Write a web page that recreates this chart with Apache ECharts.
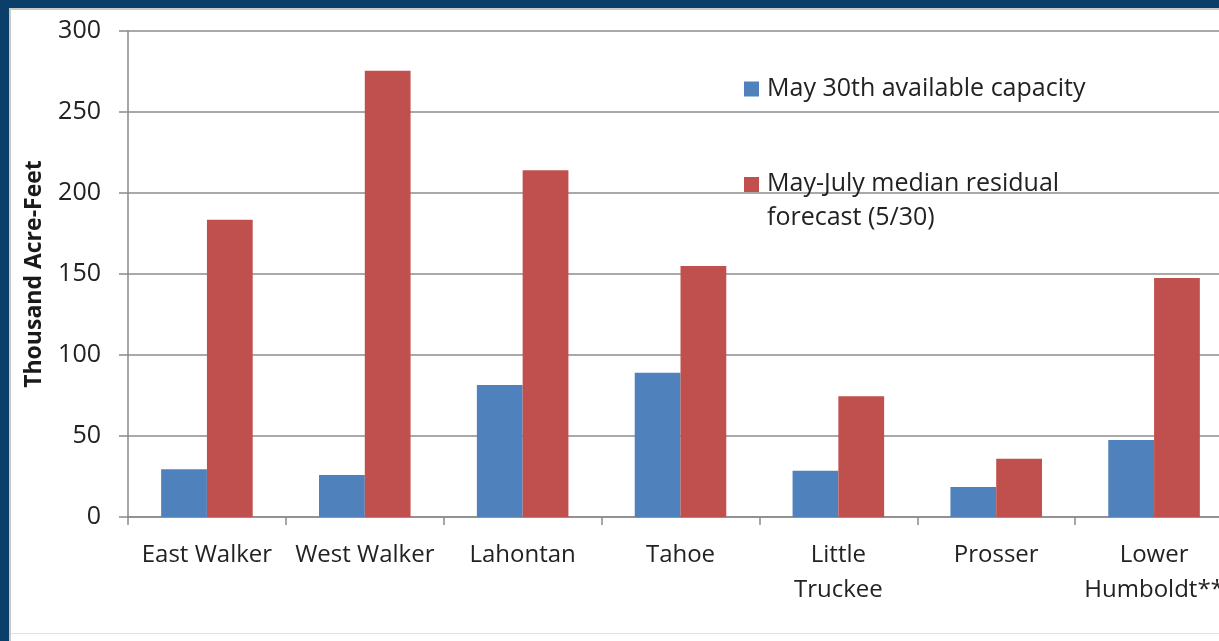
<!DOCTYPE html>
<html>
<head>
<meta charset="utf-8">
<script src="https://cdn.jsdelivr.net/npm/echarts@6/dist/echarts.min.js"></script>
<style>
html,body{margin:0;padding:0;width:1219px;height:641px;overflow:hidden;background:#0b3f69;}
#frame{position:absolute;left:9px;top:8px;width:1240px;height:640px;background:#fff;border-left:2px solid #c9c9c9;border-top:2px solid #c9c9c9;}
#bline{position:absolute;left:11px;top:633px;width:1240px;height:0;border-top:1px solid #e2e2e2;}
#chart{position:absolute;left:0;top:0;width:1219px;height:641px;}
</style>
</head>
<body>
<div id="frame"></div>
<div id="bline"></div>
<div id="chart"></div>
<script>
const categories = ['East Walker', 'West Walker', 'Lahontan', 'Tahoe', 'Little\nTruckee', 'Prosser', 'Lower\nHumboldt**'];
const capacity = [29.5, 26, 81.5, 89, 28.5, 18.5, 47.5];
const forecast = [183.5, 275.5, 214, 155, 74.5, 36, 147.5];
const yTicks = [0, 50, 100, 150, 200, 250, 300];
const seriesNames = ['May 30th available capacity', 'May-July median residual forecast (5/30)'];

const chart = echarts.init(document.getElementById('chart'));
const font = '"Open Sans", Lato, sans-serif';
chart.setOption({
  animation: false,
  backgroundColor: 'transparent',
  textStyle: { fontFamily: font },
  grid: { left: 128, width: 1105, top: 31, height: 486, containLabel: false, outerBoundsMode: 'none' },
  legend: [{
    data: [seriesNames[0]],
    left: 739, top: 69,
    itemWidth: 15, itemHeight: 15,
    icon: 'rect',
    textStyle: { fontFamily: font, fontSize: 25, color: '#222222', lineHeight: 30, padding: [0, 0, 0, 3] }
  }, {
    data: [seriesNames[1]],
    left: 739, top: 162,
    itemWidth: 15, itemHeight: 48,
    symbolKeepAspect: false,
    icon: 'path://M0,0L15,0L15,15L0,15Z M0,48L0.01,48L0.01,48.01Z',
    formatter: function () { return 'May-July median residual\nforecast (5/30)'; },
    textStyle: { fontFamily: font, fontSize: 25, color: '#222222', lineHeight: 34, padding: [0, 0, 0, 3] }
  }],
  xAxis: {
    type: 'category',
    data: categories,
    axisLine: { show: true, lineStyle: { color: '#8a8a8a', width: 1.5 } },
    axisTick: { show: true, alignWithLabel: false, length: 8, lineStyle: { color: '#8a8a8a', width: 1.5 } },
    axisLabel: { color: '#222222', fontSize: 24, margin: 21, lineHeight: 35, interval: 0, fontFamily: font },
    splitLine: { show: false }
  },
  yAxis: {
    type: 'value',
    min: yTicks[0], max: yTicks[yTicks.length - 1], interval: 50,
    name: 'Thousand Acre-Feet',
    nameLocation: 'middle',
    nameGap: 82,
    nameRotate: 90,
    nameTextStyle: { fontSize: 23, fontWeight: 'bold', color: '#1a1a1a', fontFamily: font },
    axisLine: { show: true, lineStyle: { color: '#8a8a8a', width: 1.5 } },
    axisTick: { show: true, length: 9, lineStyle: { color: '#8a8a8a', width: 1.5 } },
    axisLabel: { color: '#222222', fontSize: 25, margin: 27, fontFamily: font },
    splitLine: { show: true, lineStyle: { color: '#8c8c8c', width: 1.5 } }
  },
  series: [{
    name: seriesNames[0], type: 'bar', data: capacity,
    itemStyle: { color: '#4f81bd' }, barGap: '0%', barCategoryGap: '42%'
  }, {
    name: seriesNames[1], type: 'bar', data: forecast,
    itemStyle: { color: '#c0504d' }, barGap: '0%', barCategoryGap: '42%'
  }]
});
</script>
</body>
</html>
